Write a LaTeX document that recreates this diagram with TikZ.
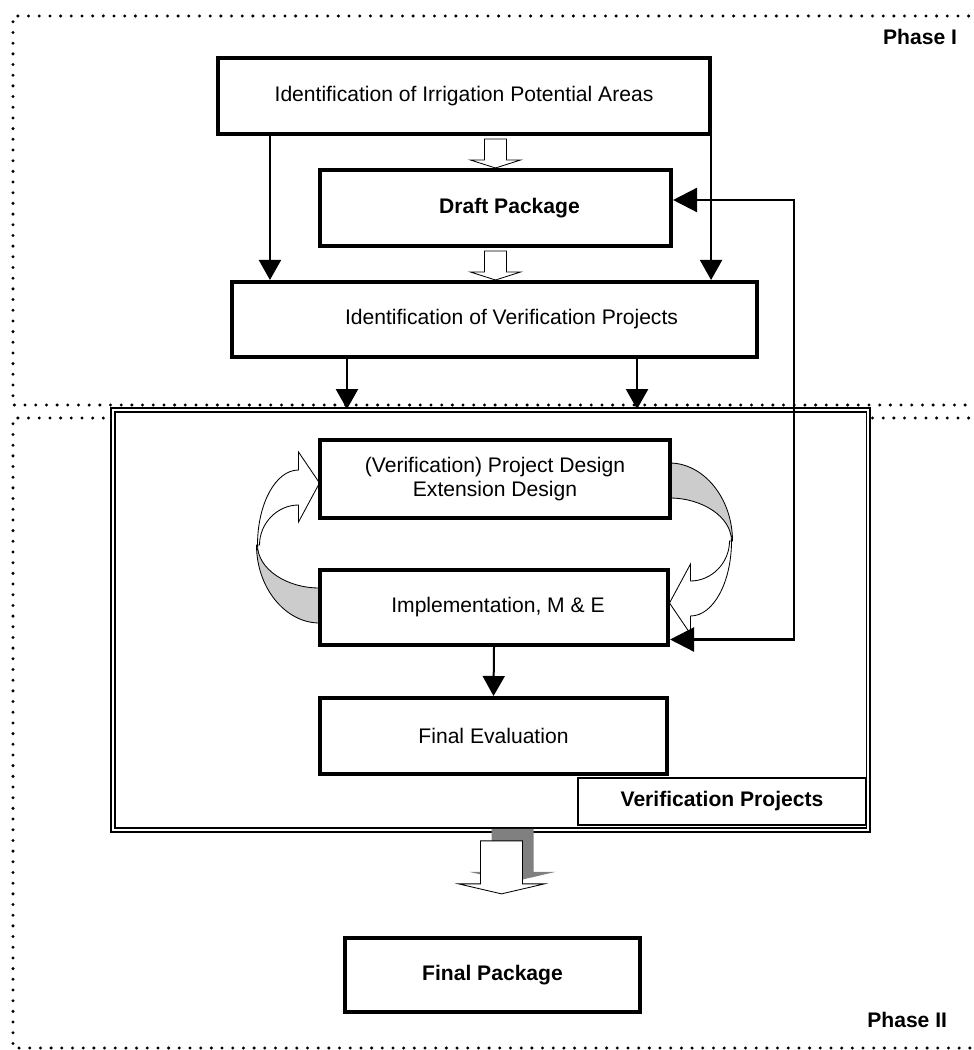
\documentclass[tikz,border=0pt]{standalone}
\usepackage{fontspec}
\setmainfont{Liberation Sans}
\usetikzlibrary{positioning, arrows.meta}

\definecolor{lightshade}{RGB}{204,204,204}
\definecolor{darkshade}{RGB}{128,128,128}

\begin{document}
\begin{tikzpicture}[x=0.025cm, y=-0.025cm]
      % Define styles for nodes
      \tikzset{
        stepbox/.style={rectangle, draw, line width=0.1cm, fill=white, inner sep=2pt, align=center,
          font=\fontsize{15}{17.7}\selectfont},
        boldbox/.style={stepbox, font=\fontsize{15}{17.7}\selectfont\bfseries},
        frame/.style={rectangle, draw, double, double distance=0.05cm, line width=0.04cm, fill=white},
        phaseline/.style={line width=0.083cm, dash pattern=on 0pt off 0.267cm, line cap=round},
        flow/.style={line width=0.05cm, -{Triangle[length=0.5cm, width=0.55cm]}},
        feedback/.style={line width=0.06cm, {Triangle[length=0.6cm, width=0.6cm]}-{Triangle[length=0.6cm, width=0.6cm]}},
        blockarrow/.style={draw, fill=white, line width=0.6pt},
        annotation/.style={font=\fontsize{15}{17.7}\selectfont\bfseries},
        hollowdown/.pic={
          \draw[blockarrow] (-11,0) -- (11,0) -- (11,21) -- (25,21) -- (0,29) -- (-25,21) -- (-11,21) -- cycle;
        },
        bigdown/.pic={
          \fill[darkshade] (-10,-12) -- (32,-12) -- (32,31) -- (54,31) -- (11,41) -- (-32,31) -- (-10,31) -- cycle;
          \draw[blockarrow] (-21,0) -- (21,0) -- (21,43) -- (43,43) -- (0,53) -- (-43,43) -- (-21,43) -- cycle;
        },
        loopflow/.pic={
          \filldraw[fill=lightshade, line width=0.6pt] (-237,2) .. controls (-237,26) and (-208,45) .. (-175,45)
            -- (-175,80) .. controls (-209,80) and (-238,45) .. (-238,2) -- cycle;
          \draw[blockarrow] (-237,2) .. controls (-237,-39) and (-219,-73) .. (-196,-73) -- (-196,-91) -- (-175,-60)
            -- (-196,-21) -- (-196,-38) .. controls (-217,-38) and (-235,-20) .. (-235,2) -- cycle;
        }
      }
      \useasboundingbox (0,0) rectangle (973,1050);

      % Phase frames
      \draw[phaseline] (990,16) -- (13,16) -- (13,405) -- (990,405);
      \draw[phaseline] (990,418) -- (13,418) -- (13,1048) -- (990,1048);

      % Verification projects frame
      \node[frame, minimum width=18.875cm, minimum height=10.5cm] (vproj) at (490.5,620) {};
      \node[boldbox, line width=0.035cm, minimum width=7.2cm, minimum height=1.175cm] (vlabel) at (722,801.5) {Verification Projects};

      % Curved arrows between design and implementation
      \pic at (494.5,543) {loopflow};
      \pic[rotate=180] at (494.5,543) {loopflow};

      % Boxes
      \node[stepbox, minimum width=12.3cm, minimum height=1.9cm] (idareas) at (464,96) {Identification of Irrigation Potential Areas};
      \node[boldbox, minimum width=8.775cm, minimum height=1.9cm] (draft) at (495.5,208) {\hspace*{0.7cm}Draft Package};
      \node[stepbox, minimum width=13.125cm, minimum height=1.875cm] (idverif) at (494.5,319.5) {\hspace*{0.85cm}Identification of Verification Projects};
      \node[stepbox, minimum width=8.75cm, minimum height=1.95cm] (design) at (495,479) {(Verification) Project Design\\Extension Design};
      \node[stepbox, minimum width=8.7cm, minimum height=1.875cm] (impl) at (494,607.5) {\hspace*{0.2cm}Implementation, M \& E};
      \node[stepbox, minimum width=8.675cm, minimum height=1.9cm] (finaleval) at (493.5,736) {Final Evaluation};
      \node[boldbox, minimum width=7.375cm, minimum height=1.85cm] (finalpkg) at (492.5,975) {Final Package};

      % Block arrows
      \pic at ([yshift=-0.075cm]idareas.south -| draft.north) {hollowdown};
      \pic at ([yshift=-0.075cm]draft.south) {hollowdown};
      \pic at ([xshift=0.275cm, yshift=-0.25cm]vproj.south) {bigdown};

      % Connectors
      \draw[flow] ([xshift=-4.85cm]idareas.south) -- ([xshift=-4.85cm]idareas.south |- idverif.north);
      \draw[flow] ([xshift=6.175cm]idareas.south) -- ([xshift=6.175cm]idareas.south |- idverif.north);
      \draw[flow] ([xshift=-3.6875cm]idverif.south) -- ([xshift=-3.6875cm]idverif.south |- vproj.north);
      \draw[flow] ([xshift=3.5625cm]idverif.south) -- ([xshift=3.5625cm]idverif.south |- vproj.north);
      \draw[flow] (impl.south) -- (finaleval.north);
      \coordinate (fbturn) at (794,420);
      \draw[feedback] ([yshift=0.2cm]draft.east) -| (fbturn) |- ([yshift=-0.8cm]impl.east);

      % Phase labels
      \node[annotation, anchor=east] (phaseone) at (962,37) {Phase I};
      \node[annotation, anchor=east] (phasetwo) at (952,1020) {Phase II};
\end{tikzpicture}
\end{document}
